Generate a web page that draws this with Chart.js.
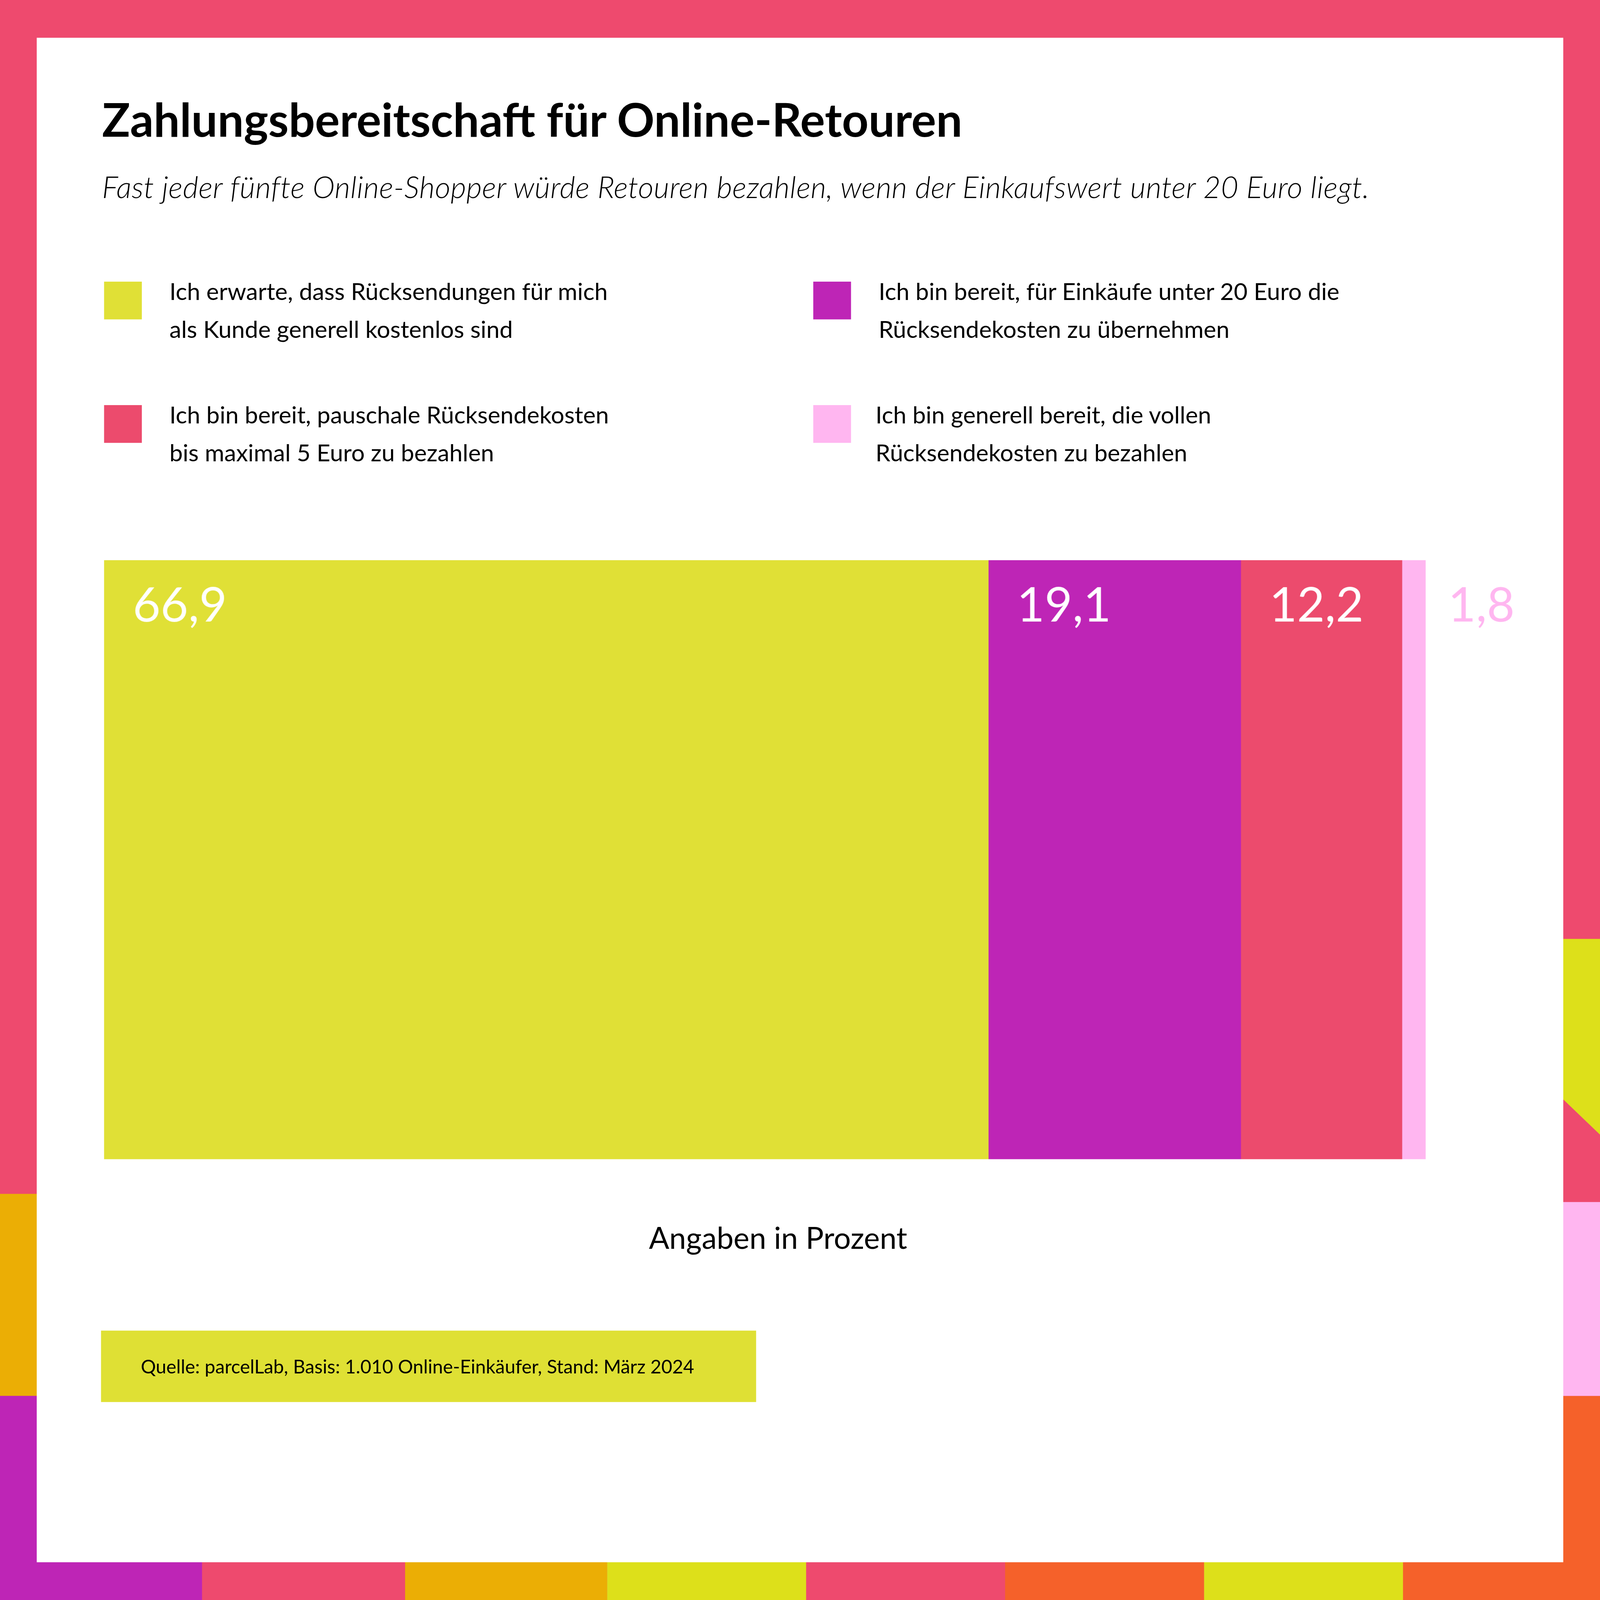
<!DOCTYPE html>
<html><head><meta charset="utf-8">
<script src="https://cdn.jsdelivr.net/npm/chart.js@4"></script>
<style>
html,body{margin:0;padding:0;background:#fff;overflow:hidden}
#page{position:absolute;left:0;top:0;width:1568px;height:1568px;transform-origin:0 0;background:#EE4A6E;overflow:hidden;font-family:Lato,sans-serif;color:#000}
.b{position:absolute}
#inner{position:absolute;left:36px;top:37px;width:1496px;height:1494px;background:#fff}
h1{position:absolute;left:100px;top:89px;margin:0;font-size:45.5px;font-weight:700;white-space:nowrap}
.sub{position:absolute;left:100px;top:165px;font-size:29.5px;font-style:italic;font-weight:300;white-space:nowrap;letter-spacing:0.2px}
.lg{position:absolute;width:37px;height:37px}
.lt{position:absolute;font-size:23.3px;line-height:37px;white-space:nowrap}
#wrap{position:absolute;left:102px;top:549px;width:1420px;height:587px}
.ax{position:absolute;left:0;width:1525px;text-align:center;top:1195px;font-size:29.5px}
.src{position:absolute;left:99px;top:1304px;width:642px;height:70px;background:#DFE034}
.src span{position:absolute;left:39px;top:24px;font-size:18.5px;white-space:nowrap}
</style></head><body>
<div id="page">
  <div class="b" style="left:0;top:1170px;width:40px;height:198px;background:#EBAE05"></div>
  <div class="b" style="left:0;top:1368px;width:40px;height:200px;background:#BE25B6"></div>
  <div class="b" style="left:0;top:1530px;width:198px;height:38px;background:#BE25B6"></div>
  <div class="b" style="left:397px;top:1530px;width:198px;height:38px;background:#EBAE05"></div>
  <div class="b" style="left:595px;top:1530px;width:195px;height:38px;background:#DDE01A"></div>
  <div class="b" style="left:985px;top:1530px;width:195px;height:38px;background:#F5612A"></div>
  <div class="b" style="left:1180px;top:1530px;width:195px;height:38px;background:#DDE01A"></div>
  <div class="b" style="left:1375px;top:1368px;width:193px;height:200px;background:#F5612A"></div>
  <div class="b" style="left:1530px;top:920px;width:38px;height:192px;background:#DDE01A;clip-path:polygon(0 0,100% 0,100% 100%,0 81%)"></div>
  <div class="b" style="left:1530px;top:1178px;width:38px;height:190px;background:#FFB6F0"></div>
  <div id="inner"></div>
  <h1>Zahlungsbereitschaft für Online-Retouren</h1>
  <div class="sub">Fast jeder fünfte Online-Shopper würde Retouren bezahlen, wenn der Einkaufswert unter 20 Euro liegt.</div>
  <div id="legend"></div>
  <div id="wrap"><canvas id="c"></canvas></div>
  <div class="ax">Angaben in Prozent</div>
  <div class="src"><span>Quelle: parcelLab, Basis: 1.010 Online-Einkäufer, Stand: März 2024</span></div>
</div>
<script>
const categories = ['Retouren'];
const seriesLabels = [
  ['Ich erwarte, dass Rücksendungen für mich', 'als Kunde generell kostenlos sind'],
  ['Ich bin bereit, für Einkäufe unter 20 Euro die', 'Rücksendekosten zu übernehmen'],
  ['Ich bin bereit, pauschale Rücksendekosten', 'bis maximal 5 Euro zu bezahlen'],
  ['Ich bin generell bereit, die vollen', 'Rücksendekosten zu bezahlen']
];
const seriesValues = [66.9, 19.1, 12.2, 1.8];
const seriesColors = ['#E0E036', '#BE25B6', '#EC4B6D', '#FFB6F0'];
const labelColors = ['#fff', '#fff', '#fff', '#FFB6F0'];

// fit the 1568 design to the actual window
const vw = Math.min(window.innerWidth, window.innerHeight) || 6000;
const scale = vw / 1568;
document.getElementById('page').style.transform = `scale(${scale})`;

// legend in two columns, order: 0,2 left; 1,3 right
const lgPos = [[102,276,166],[797,276,861],[102,397,166],[797,397,858]];
const legend = document.getElementById('legend');
seriesLabels.forEach((l, i) => {
  const [x, y, tx] = lgPos[i];
  legend.insertAdjacentHTML('beforeend',
    `<div class="lg" style="left:${x}px;top:${y}px;background:${seriesColors[i]}"></div>` +
    `<div class="lt" style="left:${tx}px;top:${y-9}px">${l[0]}<br>${l[1]}</div>`);
});

const valueLabels = {
  id: 'valueLabels',
  afterDatasetsDraw(chart) {
    const ctx = chart.ctx;
    ctx.save();
    ctx.font = '47px Lato';
    ctx.textBaseline = 'alphabetic';
    chart.data.datasets.forEach((ds, i) => {
      const bar = chart.getDatasetMeta(i).data[0];
      const left = Math.min(bar.x, bar.base);
      const x = i === 3 ? Math.max(bar.x, bar.base) + 22 : left + 28;
      ctx.fillStyle = labelColors[i];
      ctx.fillText(String(ds.data[0]).replace('.', ','), x, bar.y - bar.height / 2 + 60);
    });
    ctx.restore();
  }
};

new Chart(document.getElementById('c'), {
  type: 'bar',
  data: {
    labels: categories,
    datasets: seriesValues.map((v, i) => ({
      label: seriesLabels[i].join(' '),
      data: [v],
      backgroundColor: seriesColors[i],
      barPercentage: 1,
      categoryPercentage: 1
    }))
  },
  options: {
    indexAxis: 'y',
    responsive: true,
    maintainAspectRatio: false,
    animation: false,
    devicePixelRatio: scale * (window.devicePixelRatio || 1),
    layout: { padding: { right: 125 } },
    plugins: { legend: { display: false }, tooltip: { enabled: false } },
    scales: {
      x: { stacked: true, min: 0, max: 100, display: false },
      y: { stacked: true, display: false }
    }
  },
  plugins: [valueLabels]
});
</script>
</body></html>
